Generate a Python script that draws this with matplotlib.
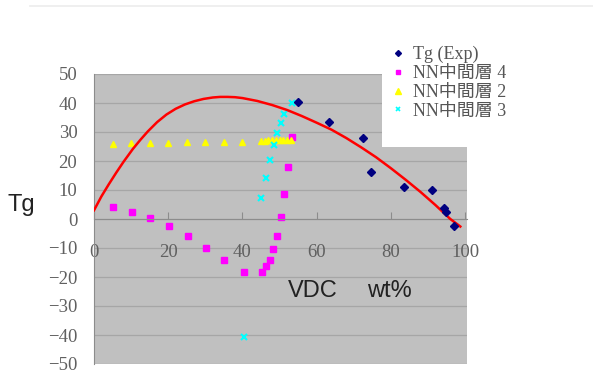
import matplotlib
matplotlib.use("Agg")
import matplotlib.pyplot as plt
from matplotlib.patches import Rectangle
from matplotlib.lines import Line2D

# --- data ---
exp_x = [54.9, 63.3, 72.6, 74.7, 83.4, 91.0, 94.2, 94.9, 97.0]
exp_y = [40.2, 33.4, 28.0, 16.2, 11.0, 9.9, 3.9, 2.5, -2.4]

nn4_x = [5.2, 10.2, 15.1, 20.2, 25.2, 30.2, 35.1, 40.3, 45.3, 46.4, 47.4, 48.3, 49.4, 50.4, 51.3, 52.2, 53.4]
nn4_y = [4.0, 2.3, 0.2, -2.4, -5.7, -9.9, -14.1, -18.2, -18.2, -16.2, -14.0, -10.5, -5.7, 0.6, 8.5, 17.8, 28.4]

nn2_x = [5, 10, 15, 20, 25, 30, 35, 40, 45, 46, 47, 48, 49, 50, 51, 52, 53]
nn2_y = [26.0, 26.1, 26.2, 26.3, 26.4, 26.5, 26.6, 26.7, 27.0, 27.0, 27.1, 27.1, 27.2, 27.2, 27.2, 27.3, 27.3]

nn3_x = [40.3, 45.0, 46.3, 47.3, 48.4, 49.3, 50.3, 51.3, 53.3]
nn3_y = [-40.6, 7.3, 14.2, 20.3, 25.5, 29.8, 33.2, 36.2, 40.1]

# red trend line
fit_x = [0, 2, 4, 6, 8, 10.5, 12.5, 14.5, 17, 19.5, 22, 24.5, 27, 29.5, 32, 34, 36, 38, 40, 44, 48,
         52, 56, 60, 64, 68, 72, 76, 80, 84, 88, 92, 96, 98.7]
fit_y = [3.0, 7.8, 12.0, 16.0, 19.8, 24.2, 27.3, 30.2, 33.4, 36.0, 38.0, 39.5, 40.6, 41.4, 41.9, 42.1, 42.1, 42.0, 41.7, 40.7, 39.3,
         37.6, 35.5, 33.2, 30.8, 27.9, 24.7, 21.3, 17.5, 13.5, 9.3, 4.8, 0.0, -2.6]

x_ticks = [0, 20, 40, 60, 80, 100]
y_ticks = [-50, -40, -30, -20, -10, 0, 10, 20, 30, 40, 50]
labels = ["Tg (Exp)", "NN中間層 4", "NN中間層 2", "NN中間層 3"]

serif = ["Liberation Serif", "Noto Sans CJK JP"]
plt.rcParams["font.family"] = serif
plt.rcParams["axes.unicode_minus"] = True

W, H = 593, 389
fig = plt.figure(figsize=(W / 100, H / 100), dpi=100)
ax = fig.add_axes([94 / W, 1 - 364 / H, (467 - 94) / W, (364 - 74) / H])
ax.set_facecolor("#c0c0c0")

# grid lines every 10
for v in y_ticks:
    ax.axhline(v, color="#a6a6a6", lw=0.9, zorder=0.5)

ax.plot(nn4_x, nn4_y, ls="none", marker="s", ms=4.5, color="#ff00ff", zorder=2)
ax.plot(nn2_x, nn2_y, ls="none", marker="^", ms=5, color="#ffff00", zorder=3)
ax.plot(nn3_x, nn3_y, ls="none", marker="x", ms=4.5, mew=1.5, color="#00ffff", zorder=4)
ax.plot(fit_x, fit_y, color="#ff0000", lw=1.8, zorder=5, solid_joinstyle="round")
ax.plot(exp_x, exp_y, ls="none", marker="D", ms=4, color="#000080", zorder=6)

ax.set_xlim(0, 100.5)
ax.set_ylim(-50, 50)
ax.set_xticks(x_ticks)
ax.set_yticks(y_ticks)

ax.spines["top"].set_visible(False)
ax.spines["right"].set_visible(False)
ax.spines["bottom"].set_position(("data", 0))
ax.spines["bottom"].set_color("#8c8c8c")
ax.spines["left"].set_color("#8c8c8c")
ax.tick_params(axis="x", direction="in", length=5, color="#8c8c8c", pad=18)
ax.tick_params(axis="y", length=0, pad=12)
ax.tick_params(labelsize=13.5, labelcolor="#606060")

# axis titles
fig.text(8 / W, 1 - 211.5 / H, "Tg", family="Liberation Sans", fontsize=17, color="#222222", va="baseline")
fig.text(288 / W, 1 - 297 / H, "VDC", family="Liberation Sans", fontsize=17, color="#222222", va="baseline")
fig.text(367 / W, 1 - 297 / H, "wt%", family="Liberation Sans", fontsize=17, color="#222222", va="baseline")

# white legend area over the plot
fig.add_artist(Rectangle((382 / W, 1 - 147 / H), 1 - 382 / W, (147 - 40) / H,
                         transform=fig.transFigure, facecolor="white", edgecolor="none", zorder=4))
# faint top rule
fig.add_artist(Line2D([30 / W, 1], [1 - 6 / H, 1 - 6 / H], transform=fig.transFigure, color="#ececec", lw=1.2))

handles = [
    Line2D([], [], ls="none", marker="D", ms=3, color="#000080"),
    Line2D([], [], ls="none", marker="s", ms=3.5, color="#ff00ff"),
    Line2D([], [], ls="none", marker="^", ms=4, color="#ffff00"),
    Line2D([], [], ls="none", marker="x", ms=3.5, mew=1.2, color="#00ffff"),
]
leg = fig.legend(handles, labels, loc="upper left", bbox_to_anchor=(384 / W, 1 - 37 / H),
                 frameon=False, handlelength=0.6, handletextpad=0.5, labelspacing=0.1,
                 borderpad=0, prop={"family": serif, "size": 13})
for t in leg.get_texts():
    t.set_color("#555555")
leg.set_zorder(6)

fig.savefig("out.png", dpi=100)
